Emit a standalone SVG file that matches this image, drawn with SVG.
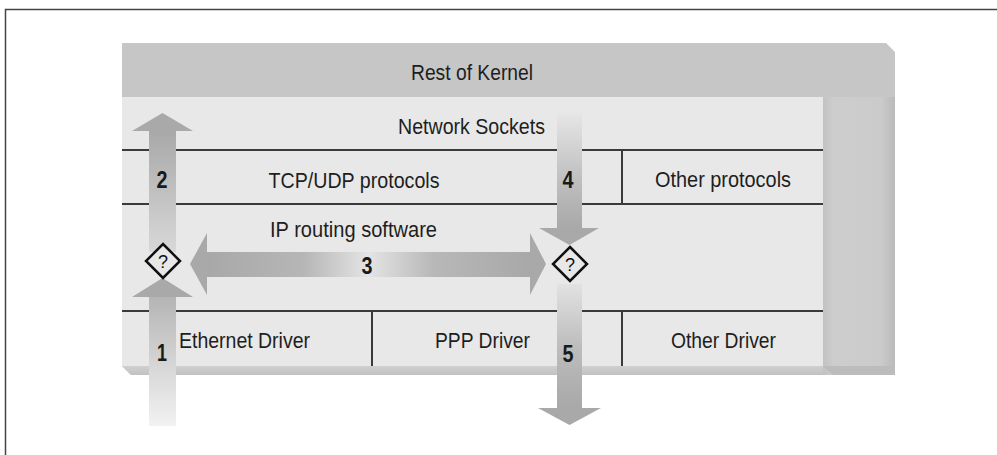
<svg xmlns="http://www.w3.org/2000/svg" width="997" height="455" viewBox="0 0 997 455">
<defs>
<style>
.lbl{font-family:"Liberation Sans",Arial,sans-serif;font-size:22px;fill:#1e1e1e;text-anchor:middle}
.num{font-family:"Liberation Sans",Arial,sans-serif;font-size:23px;font-weight:bold;fill:#1a1a1a;text-anchor:middle}
.q{font-family:"Liberation Sans",Arial,sans-serif;font-size:18px;fill:#111;text-anchor:middle}
.div{stroke:#3a3a3a;stroke-width:2;fill:none}
.dia{fill:#e8e8e8;stroke:#111;stroke-width:2.5;stroke-linejoin:miter}
.head{fill:#a9a9a9}
</style>
<linearGradient id="gRight" x1="0" y1="0" x2="1" y2="0">
<stop offset="0" stop-color="#c2c2c2"/><stop offset="0.15" stop-color="#cdcdcd"/><stop offset="0.8" stop-color="#cbcbcb"/><stop offset="1" stop-color="#bababa"/>
</linearGradient>
<linearGradient id="gBottom" x1="0" y1="0" x2="0" y2="1">
<stop offset="0" stop-color="#cfcfcf"/><stop offset="1" stop-color="#c2c2c2"/>
</linearGradient>
<linearGradient id="gA2" x1="0" y1="0" x2="0" y2="1">
<stop offset="0" stop-color="#a8a8a8"/><stop offset="1" stop-color="#d8d8d8"/>
</linearGradient>
<linearGradient id="gA1" x1="0" y1="0" x2="0" y2="1">
<stop offset="0" stop-color="#b4b4b4"/><stop offset="0.5" stop-color="#d4d4d4"/><stop offset="1" stop-color="#f2f2f2"/>
</linearGradient>
<linearGradient id="gA4" x1="0" y1="0" x2="0" y2="1">
<stop offset="0" stop-color="#e6e6e6"/><stop offset="0.5" stop-color="#c4c4c4"/><stop offset="1" stop-color="#a8a8a8"/>
</linearGradient>
<linearGradient id="gA5" x1="0" y1="0" x2="0" y2="1">
<stop offset="0" stop-color="#e2e2e2"/><stop offset="0.5" stop-color="#bdbdbd"/><stop offset="1" stop-color="#a8a8a8"/>
</linearGradient>
<linearGradient id="gA3" x1="0" y1="0" x2="1" y2="0">
<stop offset="0" stop-color="#a8a8a8"/><stop offset="0.3" stop-color="#b6b6b6"/><stop offset="0.5" stop-color="#e4e4e4"/><stop offset="0.7" stop-color="#b8b8b8"/><stop offset="1" stop-color="#a8a8a8"/>
</linearGradient>
</defs>

<rect width="997" height="455" fill="#ffffff"/>
<!-- outer frame -->
<path d="M5.5 455 V9.5 H997" fill="none" stroke="#444" stroke-width="1.5"/>

<g id="kernel">
  <polygon points="122,43 886,43 895,52 895,375 131,375 122,366" fill="#c6c6c6"/>
  <rect x="823" y="97" width="72" height="278" fill="url(#gRight)"/>
  <polygon points="122,366 823,366 823,375 131,375" fill="url(#gBottom)"/>
  <polygon points="823,366 895,366 895,375 833,375" fill="#bcbcbc"/>
  <rect x="122" y="97" width="701" height="269" fill="#e8e8e8"/>
  <text class="lbl" x="472" y="80" textLength="122" lengthAdjust="spacingAndGlyphs">Rest of Kernel</text>
</g>

<g id="sockets">
  <text class="lbl" x="471.5" y="134" textLength="147" lengthAdjust="spacingAndGlyphs">Network Sockets</text>
</g>
<g id="tcpudp">
  <text class="lbl" x="354" y="188" textLength="171" lengthAdjust="spacingAndGlyphs">TCP/UDP protocols</text>
</g>
<g id="otherproto">
  <text class="lbl" x="723" y="187" textLength="136" lengthAdjust="spacingAndGlyphs">Other protocols</text>
</g>
<g id="iprouting">
  <text class="lbl" x="353.5" y="237" textLength="167" lengthAdjust="spacingAndGlyphs">IP routing software</text>
</g>
<g id="ethernet">
  <text class="lbl" x="244.5" y="348" textLength="131" lengthAdjust="spacingAndGlyphs">Ethernet Driver</text>
</g>
<g id="ppp">
  <text class="lbl" x="482.5" y="348" textLength="95" lengthAdjust="spacingAndGlyphs">PPP Driver</text>
</g>
<g id="otherdriver">
  <text class="lbl" x="723.5" y="348" textLength="105" lengthAdjust="spacingAndGlyphs">Other Driver</text>
</g>
<g id="dividers">
  <line class="div" x1="122" y1="150" x2="823" y2="150"/>
  <line class="div" x1="122" y1="204" x2="823" y2="204"/>
  <line class="div" x1="122" y1="311" x2="823" y2="311"/>
  <line class="div" x1="622" y1="150" x2="622" y2="204"/>
  <line class="div" x1="372" y1="311" x2="372" y2="366"/>
  <line class="div" x1="622" y1="311" x2="622" y2="366"/>
</g>

<g id="connectors">
  <!-- arrow 2 (up) -->
  <rect x="149" y="130" width="27" height="122" fill="url(#gA2)"/>
  <polygon class="head" points="162.5,113 193,131 132,131"/>
  <!-- arrow 1 (up from below) -->
  <rect x="149" y="296" width="27" height="130" fill="url(#gA1)"/>
  <polygon class="head" points="162.5,278 193,297 132,297" fill="#acacac"/>
  <!-- arrow 3 (double) -->
  <rect x="206" y="252" width="325" height="25" fill="url(#gA3)"/>
  <polygon class="head" points="207,233 190,264 207,295"/>
  <polygon class="head" points="530,233 546,264 530,295"/>
  <!-- arrow 4 (down) -->
  <rect x="557" y="113" width="25" height="116" fill="url(#gA4)"/>
  <polygon class="head" points="539,228 599,228 569.5,245"/>
  <!-- arrow 5 (down) -->
  <rect x="557" y="284" width="25" height="125" fill="url(#gA5)"/>
  <polygon class="head" points="538,408 601,408 569.5,425"/>
  <text class="num" x="162" y="188" textLength="11" lengthAdjust="spacingAndGlyphs">2</text>
  <text class="num" x="162" y="361" textLength="10" lengthAdjust="spacingAndGlyphs">1</text>
  <text class="num" x="367" y="274" textLength="11" lengthAdjust="spacingAndGlyphs">3</text>
  <text class="num" x="568" y="188" textLength="11" lengthAdjust="spacingAndGlyphs">4</text>
  <text class="num" x="568" y="362" textLength="11" lengthAdjust="spacingAndGlyphs">5</text>
</g>

<g id="decision1">
  <polygon class="dia" points="163,244 180,261 163,278 146,261"/>
  <text class="q" x="163" y="267.5">?</text>
</g>
<g id="decision2">
  <polygon class="dia" points="570,247 587,264 570,281 553,264"/>
  <text class="q" x="570" y="270.5">?</text>
</g>
</svg>
